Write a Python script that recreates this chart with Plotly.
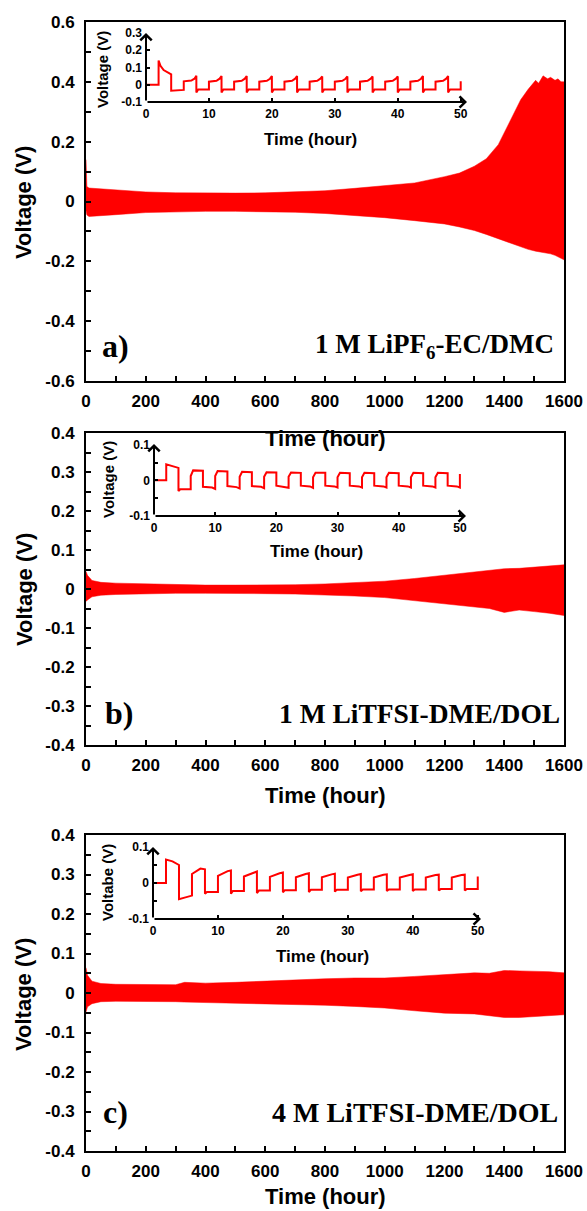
import plotly.graph_objects as go

OFF = 0  # body margin is removed by the post script below
W, H = 587, 1211

# ---------------- main panel data (envelope of the voltage band) ----------------
time_a = [0, 3, 10, 50, 100, 200, 300, 400, 500, 600, 700, 800, 900, 1000, 1100, 1200, 1250,
          1300, 1340, 1380, 1420, 1455, 1480, 1505, 1515, 1530, 1545, 1555, 1570, 1580, 1590, 1600]
upper_a = [0.14, 0.05, 0.045, 0.042, 0.038, 0.032, 0.029, 0.028, 0.028, 0.029, 0.032, 0.036, 0.044,
           0.052, 0.062, 0.083, 0.095, 0.118, 0.143, 0.19, 0.27, 0.34, 0.375, 0.405, 0.395, 0.42, 0.41,
           0.415, 0.405, 0.41, 0.4, 0.4]
lower_a = [-0.03, -0.045, -0.05, -0.048, -0.044, -0.037, -0.034, -0.033, -0.033, -0.034, -0.036, -0.04,
           -0.046, -0.054, -0.064, -0.075, -0.085, -0.097, -0.11, -0.125, -0.14, -0.152, -0.16, -0.166,
           -0.168, -0.17, -0.172, -0.175, -0.18, -0.185, -0.19, -0.195]

time_b = [0, 5, 20, 50, 100, 200, 300, 400, 500, 600, 700, 800, 900, 1000, 1100, 1200, 1250, 1300,
          1350, 1400, 1450, 1500, 1550, 1600]
upper_b = [0.045, 0.035, 0.022, 0.017, 0.015, 0.013, 0.011, 0.01, 0.01, 0.01, 0.011, 0.013, 0.016, 0.02,
           0.027, 0.035, 0.04, 0.044, 0.048, 0.052, 0.053, 0.056, 0.06, 0.062]
lower_b = [-0.032, -0.028, -0.02, -0.016, -0.014, -0.012, -0.011, -0.011, -0.011, -0.012, -0.013, -0.015,
           -0.018, -0.022, -0.03, -0.038, -0.043, -0.047, -0.05, -0.06, -0.054, -0.058, -0.062, -0.068]

time_c = [0, 5, 20, 50, 100, 200, 300, 330, 400, 500, 600, 700, 800, 900, 1000, 1100, 1200, 1300,
          1350, 1400, 1450, 1500, 1550, 1600]
upper_c = [0.064, 0.045, 0.03, 0.024, 0.022, 0.021, 0.021, 0.027, 0.025, 0.027, 0.03, 0.034, 0.036, 0.038,
           0.038, 0.042, 0.047, 0.051, 0.05, 0.057, 0.056, 0.055, 0.054, 0.051]
lower_c = [-0.048, -0.035, -0.027, -0.022, -0.021, -0.021, -0.022, -0.023, -0.024, -0.026, -0.028, -0.03,
           -0.031, -0.034, -0.038, -0.045, -0.051, -0.053, -0.057, -0.062, -0.062, -0.06, -0.058, -0.055]

# ---------------- inset data (first 50 h) ----------------
inset_a_t = [0, 2, 2, 2.3, 2.8, 3.4, 4, 4, 6, 6, 7.2, 7.7, 8,
             8, 8.3, 10, 10, 11.2, 11.7, 12,
             12, 12.3, 14, 14, 15.2, 15.7, 16,
             16, 16.3, 18, 18, 19.2, 19.7, 20,
             20, 20.3, 22, 22, 23.2, 23.7, 24,
             24, 24.3, 26, 26, 27.2, 27.7, 28,
             28, 28.3, 30, 30, 31.2, 31.7, 32,
             32, 32.3, 34, 34, 35.2, 35.7, 36,
             36, 36.3, 38, 38, 39.2, 39.7, 40,
             40, 40.3, 42, 42, 43.2, 43.7, 44,
             44, 44.3, 46, 46, 47.2, 47.7, 48,
             48, 48.3, 50, 50]
inset_a_v = [0, 0, 0.14, 0.11, 0.085, 0.07, 0.06, -0.035, -0.03, 0.02, 0.024, 0.035, 0.052,
             -0.045, -0.028, -0.027, 0.018, 0.023, 0.035, 0.05,
             -0.045, -0.028, -0.027, 0.018, 0.023, 0.035, 0.05,
             -0.045, -0.028, -0.027, 0.018, 0.023, 0.035, 0.05,
             -0.045, -0.028, -0.027, 0.018, 0.023, 0.035, 0.05,
             -0.045, -0.028, -0.027, 0.018, 0.023, 0.035, 0.048,
             -0.045, -0.028, -0.027, 0.018, 0.023, 0.035, 0.048,
             -0.045, -0.028, -0.027, 0.018, 0.023, 0.035, 0.048,
             -0.045, -0.028, -0.027, 0.018, 0.023, 0.035, 0.048,
             -0.045, -0.028, -0.027, 0.018, 0.023, 0.035, 0.05,
             -0.045, -0.028, -0.027, 0.018, 0.023, 0.035, 0.05,
             -0.045, -0.028, -0.027, 0.02]

inset_b_t = [0, 2, 2, 3, 4, 4, 4.3, 6, 6, 6.4, 8,
             8, 9.5, 10, 10, 10.4, 12,
             12, 13.5, 14, 14, 14.4, 16,
             16, 17.5, 18, 18, 18.4, 20,
             20, 21.5, 22, 22, 22.4, 24,
             24, 25.5, 26, 26, 26.4, 28,
             28, 29.5, 30, 30, 30.4, 32,
             32, 33.5, 34, 34, 34.4, 36,
             36, 37.5, 38, 38, 38.4, 40,
             40, 41.5, 42, 42, 42.4, 44,
             44, 45.5, 46, 46, 46.4, 48,
             48, 49.5, 50, 50]
inset_b_v = [0, 0, 0.045, 0.04, 0.035, -0.03, -0.025, -0.025, 0.012, 0.028, 0.027,
             -0.018, -0.02, -0.024, 0.012, 0.026, 0.025,
             -0.016, -0.019, -0.023, 0.01, 0.024, 0.023,
             -0.016, -0.018, -0.022, 0.01, 0.023, 0.022,
             -0.015, -0.018, -0.021, 0.01, 0.022, 0.021,
             -0.015, -0.017, -0.021, 0.009, 0.021, 0.021,
             -0.015, -0.017, -0.02, 0.009, 0.021, 0.02,
             -0.015, -0.017, -0.02, 0.009, 0.021, 0.02,
             -0.015, -0.017, -0.02, 0.009, 0.021, 0.02,
             -0.015, -0.017, -0.02, 0.009, 0.021, 0.02,
             -0.015, -0.017, -0.02, 0.009, 0.021, 0.02,
             -0.015, -0.017, -0.02, 0.018]

inset_c_t = [0, 2, 2, 3, 4, 4, 5, 6, 6, 7.3, 8,
             8, 8.3, 10, 10, 11.5, 12,
             12, 12.3, 14, 14, 15.5, 16,
             16, 16.3, 18, 18, 19.5, 20,
             20, 20.3, 22, 22, 23.5, 24,
             24, 24.3, 26, 26, 27.5, 28,
             28, 28.3, 30, 30, 31.5, 32,
             32, 32.3, 34, 34, 35.5, 36,
             36, 36.3, 38, 38, 39.5, 40,
             40, 40.3, 42, 42, 43.5, 44,
             44, 44.3, 46, 46, 47.5, 48,
             48, 48.3, 50, 50]
inset_c_v = [0, 0, 0.065, 0.06, 0.05, -0.045, -0.04, -0.035, 0.025, 0.04, 0.038,
             -0.03, -0.025, -0.025, 0.02, 0.033, 0.035,
             -0.03, -0.022, -0.022, 0.018, 0.03, 0.032,
             -0.028, -0.021, -0.021, 0.017, 0.027, 0.029,
             -0.026, -0.02, -0.02, 0.016, 0.025, 0.027,
             -0.025, -0.019, -0.019, 0.016, 0.024, 0.026,
             -0.024, -0.019, -0.019, 0.015, 0.023, 0.025,
             -0.023, -0.018, -0.018, 0.015, 0.023, 0.024,
             -0.022, -0.018, -0.018, 0.015, 0.022, 0.024,
             -0.022, -0.018, -0.018, 0.015, 0.022, 0.023,
             -0.021, -0.017, -0.017, 0.015, 0.022, 0.023,
             -0.021, -0.017, -0.017, 0.018]

# tick labels
main_x_ticks = [0, 200, 400, 600, 800, 1000, 1200, 1400, 1600]
main_x_text = ["0", "200", "400", "600", "800", "1000", "1200", "1400", "1600"]
ya_ticks = [-0.6, -0.4, -0.2, 0, 0.2, 0.4, 0.6]
ya_text = ["-0.6", "-0.4", "-0.2", "0", "0.2", "0.4", "0.6"]
ybc_ticks = [-0.4, -0.3, -0.2, -0.1, 0, 0.1, 0.2, 0.3, 0.4]
ybc_text = ["-0.4", "-0.3", "-0.2", "-0.1", "0", "0.1", "0.2", "0.3", "0.4"]
inset_x_ticks = [0, 10, 20, 30, 40, 50]
inset_x_text = ["0", "10", "20", "30", "40", "50"]
inset_a_yticks = [-0.1, 0, 0.1, 0.2, 0.3]
inset_a_ytext = ["-0.1", "0", "0.1", "0.2", "0.3"]
inset_bc_yticks = [-0.1, 0, 0.1]
inset_bc_ytext = ["-0.1", "0", "0.1"]

RED = "#ff0000"
SANS = "Liberation Sans"
SERIF = "Liberation Serif"

fig = go.Figure()


def px_x(p):
    return (p - OFF) / W


def px_y(p):
    return 1 - (p - OFF) / H


def band(t, up, lo, xa, ya):
    fig.add_trace(go.Scatter(x=t, y=up, mode="lines", line=dict(width=0.5, color=RED),
                             xaxis=xa, yaxis=ya, showlegend=False, hoverinfo="skip"))
    fig.add_trace(go.Scatter(x=t, y=lo, mode="lines", line=dict(width=0.5, color=RED),
                             fill="tonexty", fillcolor=RED,
                             xaxis=xa, yaxis=ya, showlegend=False, hoverinfo="skip"))


band(time_a, upper_a, lower_a, "x", "y")
band(time_b, upper_b, lower_b, "x2", "y2")
band(time_c, upper_c, lower_c, "x3", "y3")

for t, v, xa, ya in [(inset_a_t, inset_a_v, "x4", "y4"),
                     (inset_b_t, inset_b_v, "x5", "y5"),
                     (inset_c_t, inset_c_v, "x6", "y6")]:
    fig.add_trace(go.Scatter(x=t, y=v, mode="lines", line=dict(width=2, color=RED),
                             xaxis=xa, yaxis=ya, showlegend=False, hoverinfo="skip"))

tickfont_main = dict(family=SANS, size=17, color="black", weight="bold")
tickfont_in = dict(family=SANS, size=12, color="black", weight="bold")

main_x_dom = [px_x(86), px_x(564)]
panels = [  # (top px, bottom px, yrange, yticks, ytext, minor)
    (22, 381, [-0.6, 0.6], ya_ticks, ya_text, 0.1),
    (433, 745, [-0.4, 0.4], ybc_ticks, ybc_text, 0.05),
    (835, 1151, [-0.4, 0.4], ybc_ticks, ybc_text, 0.05),
]
layout = dict(width=W, height=H, margin=dict(l=0, r=0, t=0, b=0, pad=0, autoexpand=False),
              paper_bgcolor="white", plot_bgcolor="white", showlegend=False)

for i, (top, bot, yr, yt, ytx, mn) in enumerate(panels):
    n = "" if i == 0 else str(i + 1)
    layout["xaxis" + n] = dict(domain=main_x_dom, range=[0, 1600], anchor="y" + n, automargin=False,
                               showline=True, mirror=True, linewidth=2, linecolor="black",
                               ticks="inside", ticklen=5, tickwidth=1.5, tickcolor="black",
                               tickvals=main_x_ticks, ticktext=main_x_text, tickfont=tickfont_main,
                               minor=dict(ticks="inside", dtick=100, tick0=0, ticklen=5, tickwidth=1.5,
                                          tickcolor="black"),
                               showgrid=False, zeroline=False, ticklabelstandoff=4)
    layout["yaxis" + n] = dict(domain=[px_y(bot), px_y(top)], range=yr, anchor="x" + n, automargin=False,
                               showline=True, mirror=True, linewidth=2, linecolor="black",
                               ticks="inside", ticklen=5, tickwidth=1.5, tickcolor="black",
                               tickvals=yt, ticktext=ytx, tickfont=tickfont_main,
                               minor=dict(ticks="inside", dtick=mn, tick0=0, ticklen=5, tickwidth=1.5,
                                          tickcolor="black"),
                               showgrid=False, zeroline=False, ticklabelstandoff=6)

insets = [  # (left px, right px, top px, bottom px, xmax, yrange, yticks, ytext)
    (146, 467, 33, 102, 51, [-0.1, 0.3], inset_a_yticks, inset_a_ytext),
    (154, 466, 444, 516, 51, [-0.1, 0.102], inset_bc_yticks, inset_bc_ytext),
    (153, 481, 847, 919, 50.5, [-0.1, 0.1], inset_bc_yticks, inset_bc_ytext),
]
annotations = []
for j, (l, r, top, bot, xmax, yr, yt, ytx) in enumerate(insets):
    n = str(j + 4)
    layout["xaxis" + n] = dict(domain=[px_x(l), px_x(r)], range=[0, xmax], anchor="y" + n, automargin=False,
                               showline=False, ticks="inside", ticklen=4, tickwidth=1.5,
                               tickcolor="black", tickvals=inset_x_ticks, ticktext=inset_x_text,
                               tickfont=tickfont_in, showgrid=False, zeroline=False,
                               ticklabelstandoff=3)
    ydict = dict(domain=[px_y(bot), px_y(top)], range=yr, anchor="x" + n, automargin=False,
                 showline=False, ticks="inside", ticklen=4, tickwidth=1.5,
                 tickcolor="black", tickvals=yt, ticktext=ytx,
                 tickfont=tickfont_in, showgrid=False, zeroline=False,
                 ticklabelstandoff=3)
    if j > 0:
        ydict["minor"] = dict(ticks="inside", dtick=0.05, tick0=0, ticklen=4, tickwidth=1.5,
                              tickcolor="black")
    layout["yaxis" + n] = ydict
    # arrows for the inset axes
    annotations.append(dict(x=xmax, y=yr[0], ax=0, ay=yr[0], xref="x" + n, yref="y" + n,
                            axref="x" + n, ayref="y" + n, text="", showarrow=True, arrowhead=4,
                            arrowsize=1.1, arrowwidth=2, arrowcolor="black", standoff=0))
    annotations.append(dict(x=0, y=yr[1], ax=0, ay=yr[0], xref="x" + n, yref="y" + n,
                            axref="x" + n, ayref="y" + n, text="", showarrow=True, arrowhead=4,
                            arrowsize=1.1, arrowwidth=2, arrowcolor="black", standoff=0))


def text_ann(txt, x, y, size, family=SANS, angle=0, xanchor="center", bold=True):
    annotations.append(dict(text=txt, x=px_x(x), y=px_y(y), xref="paper", yref="paper",
                            showarrow=False, textangle=angle, xanchor=xanchor, yanchor="middle",
                            font=dict(family=family, size=size, color="black",
                                      weight="bold" if bold else "normal")))


# main axis titles
for yc in [203, 590, 995]:
    text_ann("Voltage (V)", 24, yc, 22, angle=-90)
for yc in [438, 795, 1196]:
    text_ann("Time (hour)", 325, yc, 22)

# inset axis titles
text_ann("Time (hour)", 310, 140, 17)
text_ann("Time (hour)", 316, 551, 17)
text_ann("Time (hour)", 322, 957, 17)
text_ann("Voltage (V)", 103, 70, 15, angle=-90)
text_ann("Voltage (V)", 108, 480, 15, angle=-90)
text_ann("Voltabe (V)", 107, 883, 15, angle=-90)

# panel labels
text_ann("a)", 100, 346, 32, family=SERIF, xanchor="left")
text_ann("b)", 103, 713, 32, family=SERIF, xanchor="left")
text_ann("c)", 101, 1112, 32, family=SERIF, xanchor="left")
text_ann("1 M LiPF<sub>6</sub>-EC/DMC", 556, 346, 27, family=SERIF, xanchor="right")
text_ann("1 M LiTFSI-DME/DOL", 562, 713, 27.5, family=SERIF, xanchor="right")
text_ann("4 M LiTFSI-DME/DOL", 560, 1112, 28, family=SERIF, xanchor="right")

layout["annotations"] = annotations
fig.update_layout(**layout)
fig.write_html("out.html", config={"displayModeBar": False},
               post_script="document.body.style.margin='0px'; document.body.style.overflow='hidden';")
